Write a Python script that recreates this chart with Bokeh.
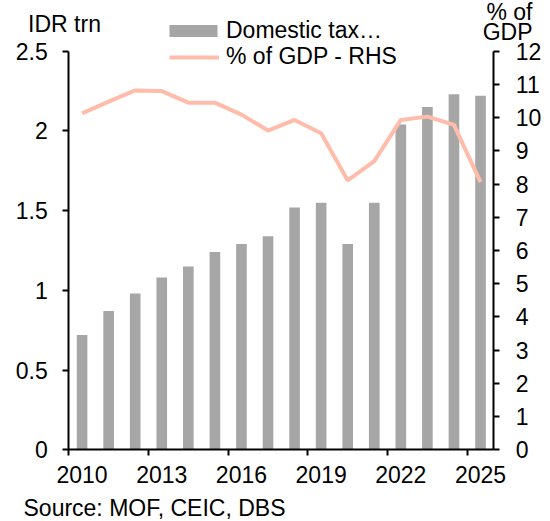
from bokeh.plotting import figure
from bokeh.models import (ColumnDataSource, Range1d, LinearAxis, FixedTicker,
                          CustomJSTickFormatter, Legend, LegendItem, Label)
from bokeh.transform import dodge
from bokeh.embed import file_html
from bokeh.resources import INLINE

# ---- data ----
years = list(range(2010, 2026))
domestic_tax = [0.72, 0.87, 0.98, 1.08, 1.15, 1.24, 1.29, 1.34, 1.52, 1.55,
                1.29, 1.55, 2.04, 2.15, 2.23, 2.22]
pct_gdp = [10.13, 10.48, 10.82, 10.80, 10.45, 10.45, 10.09, 9.61, 9.93, 9.53,
           8.11, 8.69, 9.93, 10.03, 9.78, 8.06]
x_tick_years = [2010, 2013, 2016, 2019, 2022, 2025]
left_ticks = [0, 0.5, 1, 1.5, 2, 2.5]
right_ticks = list(range(0, 13))

# ---- layout / style ----
W, H = 550, 521
PX_X0, PX_X1 = 68.3, 493.3      # canvas x of category axis start / end
PX_Y0, PX_YT = 449.3, 50.7      # canvas y (from top) of value 0 / top tick
FONT = "Liberation Sans"
FS = "23px"
BAR_COLOR = "#A6A6A6"
LINE_COLOR = "#FFBCAA"

x_lo, x_hi = years[0], years[-1] + 1
xs = (x_hi - x_lo) / (PX_X1 - PX_X0)
x_range = Range1d(x_lo - PX_X0 * xs, x_hi + (W - PX_X1) * xs)
ltop = left_ticks[-1]
ys = ltop / (PX_Y0 - PX_YT)
y_range = Range1d(-(H - PX_Y0) * ys, ltop + PX_YT * ys)
rtop = right_ticks[-1]
rs = rtop / (PX_Y0 - PX_YT)
r_range = Range1d(-(H - PX_Y0) * rs, rtop + PX_YT * rs)

src = ColumnDataSource(dict(year=years, tax=domestic_tax, pct=pct_gdp))

p = figure(width=W, height=H, output_backend="svg", toolbar_location=None,
           x_range=x_range, y_range=y_range,
           min_border=0, min_border_left=0, min_border_right=0,
           min_border_top=0, min_border_bottom=0)
p.extra_y_ranges = {"pct": r_range}
p.outline_line_color = None
p.grid.visible = False
p.background_fill_color = "white"
p.border_fill_color = "white"

bars = p.vbar(x=dodge("year", 0.5), top="tax", width=0.4, source=src,
              fill_color=BAR_COLOR, line_color=None)
line = p.line(x=dodge("year", 0.5), y="pct", source=src, y_range_name="pct",
              line_color=LINE_COLOR, line_width=4)

fmt = CustomJSTickFormatter(code="return String(tick);")


def style(ax, standoff):
    ax.axis_line_color = "black"
    ax.axis_line_width = 2
    ax.major_tick_line_color = "black"
    ax.major_tick_line_width = 2
    ax.major_tick_out = 6
    ax.major_tick_in = 0
    ax.minor_tick_line_color = None
    ax.minor_tick_out = 0
    ax.major_label_text_font = FONT
    ax.major_label_text_font_size = FS
    ax.major_label_text_color = "black"
    ax.major_label_standoff = standoff
    ax.formatter = fmt


# x axis: line + tick marks at category boundaries
xa = p.xaxis[0]
style(xa, 0)
xa.ticker = FixedTicker(ticks=x_tick_years)
xa.fixed_location = 0
xa.bounds = (x_lo, x_hi)
xa.major_label_text_color = None

# x labels centred on the categories
xl = LinearAxis(ticker=FixedTicker(ticks=[y + 0.5 for y in x_tick_years]),
                formatter=CustomJSTickFormatter(code="return String(Math.floor(tick));"),
                fixed_location=0, bounds=(x_lo, x_hi))
xl.axis_line_color = None
xl.major_tick_line_color = None
xl.minor_tick_line_color = None
xl.major_tick_out = 0
xl.minor_tick_out = 0
xl.major_label_standoff = 16
xl.major_label_text_font = FONT
xl.major_label_text_font_size = FS
xl.major_label_text_color = "black"
p.add_layout(xl, "below")

ya = p.yaxis[0]
style(ya, 15)
ya.ticker = FixedTicker(ticks=left_ticks)
ya.fixed_location = x_lo
ya.bounds = (0, ltop)

ra = LinearAxis(y_range_name="pct", ticker=FixedTicker(ticks=right_ticks))
style(ra, 16)
ra.fixed_location = x_hi
ra.bounds = (0, rtop)
p.add_layout(ra, "right")

common = dict(padding=0, spacing=0, margin=0, label_text_font=FONT,
              label_text_font_size=FS, label_text_color="black",
              border_line_color=None, background_fill_alpha=0)
leg1 = Legend(items=[LegendItem(label="Domestic tax…", renderers=[bars])],
              location=(163, 477), glyph_width=60, glyph_height=15,
              label_standoff=3, **common)
leg2 = Legend(items=[LegendItem(label="% of GDP - RHS", renderers=[line])],
              location=(169, 451), glyph_width=50, glyph_height=26,
              label_standoff=7, **common)
p.add_layout(leg1, "center")
p.add_layout(leg2, "center")

for txt, x, y, align in [("IDR trn", 64, H - 23, "center"),
                         ("% of", 532, H - 11, "right"),
                         ("GDP", 532, H - 31, "right"),
                         ("Source: MOF, CEIC, DBS", 23, H - 507, "left")]:
    p.add_layout(Label(x=x, y=y, x_units="screen", y_units="screen", text=txt,
                       text_font=FONT, text_font_size=FS, text_align=align,
                       text_baseline="middle", text_color="black"))

open("out.html", "w").write(file_html(p, INLINE))
